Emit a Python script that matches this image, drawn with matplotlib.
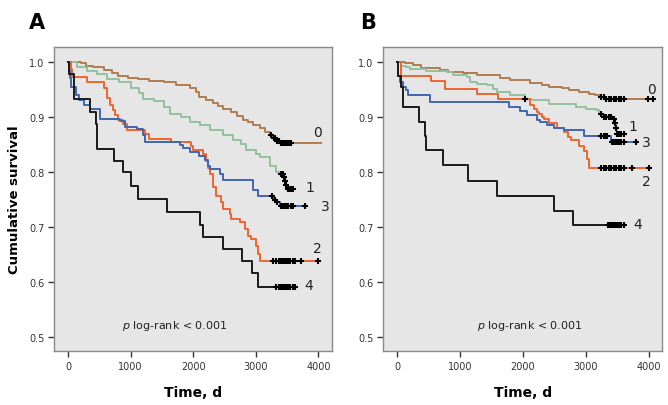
"""Kaplan-Meier style survival curves for two cohorts (panels A and B),
five groups each, with censoring marks and a log-rank note."""
import numpy as np
import matplotlib
matplotlib.use("Agg")
import matplotlib.pyplot as plt

# ---- panel A ----------------------------------------------------------
a0_t = [0, 200, 280, 400, 570, 700, 790, 950, 1110, 1300, 1530, 1730, 1950, 2050,
        2100, 2200, 2320, 2400, 2480, 2600, 2700, 2800, 2880, 2960, 3060, 3150,
        3230, 3280, 3330, 3380]
a0_s = [1.0, 0.997, 0.993, 0.99, 0.985, 0.979, 0.975, 0.971, 0.968, 0.966, 0.963,
        0.958, 0.953, 0.945, 0.936, 0.931, 0.926, 0.92, 0.914, 0.908, 0.902, 0.895,
        0.89, 0.886, 0.879, 0.873, 0.867, 0.862, 0.857, 0.852]
a0_end = 4046
a0_cens = [3250, 3290, 3310, 3340, 3370, 3400, 3420, 3440, 3460, 3490, 3520, 3550, 3570]

a1_t = [0, 150, 310, 470, 630, 810, 1000, 1130, 1200, 1370, 1530, 1630, 1800, 1950,
        2110, 2260, 2480, 2640, 2760, 2850, 3010, 3060, 3220, 3330, 3380, 3440,
        3460, 3480, 3500]
a1_s = [1.0, 0.99, 0.984, 0.978, 0.969, 0.963, 0.953, 0.943, 0.933, 0.929, 0.918,
        0.905, 0.9, 0.891, 0.885, 0.876, 0.867, 0.858, 0.85, 0.84, 0.833, 0.827,
        0.811, 0.8, 0.796, 0.79, 0.783, 0.776, 0.769]
a1_end = 3593
a1_cens = [3400, 3430, 3450, 3470, 3490, 3510, 3530, 3560, 3593]

a2_t = [0, 40, 70, 300, 570, 620, 670, 720, 750, 800, 880, 935, 1230, 1300, 1640,
        1970, 2000, 2160, 2200, 2240, 2265, 2320, 2370, 2450, 2480, 2580, 2610,
        2740, 2820, 2880, 2930, 3010, 3035, 3060]
a2_s = [1.0, 0.987, 0.972, 0.963, 0.952, 0.935, 0.922, 0.912, 0.903, 0.894, 0.887,
        0.877, 0.869, 0.86, 0.854, 0.848, 0.84, 0.832, 0.82, 0.808, 0.796, 0.772,
        0.756, 0.745, 0.733, 0.724, 0.715, 0.709, 0.696, 0.684, 0.678, 0.666,
        0.651, 0.639]
a2_end = 3992
a2_cens = [3280, 3330, 3370, 3400, 3430, 3460, 3490, 3520, 3550, 3590, 3620, 3727, 3992]

a3_t = [0, 15, 30, 45, 120, 175, 250, 350, 510, 830, 910, 1100, 1200, 1230, 1790,
        1840, 1950, 2100, 2190, 2240, 2270, 2420, 2480, 2960, 3040, 3280, 3330, 3380]
a3_s = [1.0, 0.985, 0.97, 0.954, 0.94, 0.93, 0.921, 0.915, 0.896, 0.893, 0.882,
        0.878, 0.867, 0.855, 0.849, 0.843, 0.836, 0.829, 0.821, 0.81, 0.805, 0.796,
        0.786, 0.767, 0.757, 0.75, 0.745, 0.739]
a3_end = 3780
a3_cens = [3260, 3300, 3340, 3400, 3430, 3460, 3490, 3520, 3560, 3590, 3780]

a4_t = [0, 10, 20, 96, 355, 445, 468, 734, 882, 1000, 1116, 1584, 2116, 2153,
        2477, 2780, 2935, 3035]
a4_s = [1.0, 0.987, 0.977, 0.933, 0.909, 0.887, 0.842, 0.82, 0.8, 0.775, 0.751,
        0.727, 0.703, 0.682, 0.66, 0.638, 0.617, 0.592]
a4_end = 3620
a4_cens = [3330, 3370, 3400, 3430, 3460, 3490, 3520, 3550, 3590, 3620]

# ---- panel B ----------------------------------------------------------
b0_t = [0, 117, 250, 384, 680, 810, 1050, 1264, 1637, 1797, 2117, 2304, 2410,
        2624, 2730, 2890, 3050, 3150, 3237, 3300]
b0_s = [1.0, 0.997, 0.994, 0.988, 0.985, 0.982, 0.979, 0.976, 0.97, 0.967, 0.962,
        0.958, 0.955, 0.952, 0.949, 0.945, 0.942, 0.939, 0.936, 0.933]
b0_end = 4064
b0_cens = [3240, 3280, 3320, 3360, 3400, 3440, 3480, 3520, 3560, 3610, 3984, 4064]

b1_t = [0, 60, 144, 197, 464, 784, 890, 1104, 1157, 1264, 1424, 1530, 1584, 1797,
        2037, 2144, 2410, 2837, 2997, 3157, 3210, 3264, 3424, 3450, 3477, 3500]
b1_s = [1.0, 0.993, 0.99, 0.987, 0.984, 0.981, 0.976, 0.972, 0.963, 0.96, 0.957,
        0.951, 0.945, 0.939, 0.933, 0.93, 0.924, 0.918, 0.915, 0.912, 0.906, 0.9,
        0.897, 0.888, 0.879, 0.869]
b1_end = 3610
b1_cens = [2037, 3240, 3280, 3320, 3360, 3400, 3440, 3460, 3480, 3500, 3530, 3560, 3610]

b2_t = [0, 64, 544, 757, 1264, 1610, 2117, 2170, 2224, 2250, 2304, 2330, 2410,
        2544, 2650, 2720, 2757, 2890, 2970, 3024, 3050]
b2_s = [1.0, 0.975, 0.966, 0.951, 0.941, 0.932, 0.921, 0.915, 0.909, 0.905, 0.9,
        0.897, 0.889, 0.88, 0.872, 0.864, 0.858, 0.848, 0.838, 0.824, 0.807]
b2_end = 4010
b2_cens = [3237, 3280, 3320, 3360, 3400, 3440, 3480, 3520, 3560, 3610, 3730, 4010]

b3_t = [0, 10, 37, 90, 144, 170, 517, 1770, 1957, 2064, 2224, 2277, 2384, 2490,
        2650, 2970, 3400]
b3_s = [1.0, 0.975, 0.963, 0.955, 0.948, 0.94, 0.927, 0.918, 0.91, 0.903, 0.895,
        0.891, 0.885, 0.879, 0.876, 0.865, 0.854]
b3_end = 3797
b3_cens = [3240, 3280, 3310, 3340, 3410, 3440, 3470, 3500, 3530, 3560, 3600, 3797]

b4_t = [0, 8, 60, 90, 350, 440, 465, 730, 1120, 1584, 2490, 2800]
b4_s = [1.0, 0.975, 0.955, 0.918, 0.891, 0.866, 0.839, 0.812, 0.784, 0.757, 0.73, 0.704]
b4_end = 3610
b4_cens = [3344, 3380, 3410, 3440, 3470, 3500, 3530, 3560, 3610]

GROUP_LABELS = ["0", "1", "2", "3", "4"]
COLORS = ["#b07d4f", "#93c0a0", "#f0652f", "#4066b0", "#1a1a1a"]
DRAW_ORDER = [0, 1, 3, 2, 4]

# label anchor points (time, survival) beside the curve ends
a_lab_t = [3990, 3860, 3990, 4110, 3845]
a_lab_s = [0.873, 0.773, 0.662, 0.738, 0.594]
b_lab_t = [4040, 3750, 3960, 3960, 3830]
b_lab_s = [0.951, 0.884, 0.784, 0.855, 0.705]

PANEL_A = [(a0_t, a0_s, a0_end, a0_cens), (a1_t, a1_s, a1_end, a1_cens),
           (a2_t, a2_s, a2_end, a2_cens), (a3_t, a3_s, a3_end, a3_cens),
           (a4_t, a4_s, a4_end, a4_cens)]
PANEL_B = [(b0_t, b0_s, b0_end, b0_cens), (b1_t, b1_s, b1_end, b1_cens),
           (b2_t, b2_s, b2_end, b2_cens), (b3_t, b3_s, b3_end, b3_cens),
           (b4_t, b4_s, b4_end, b4_cens)]

plt.rcParams["font.family"] = ["DejaVu Sans"]


def _surv_at(times, surv, t):
    idx = np.searchsorted(times, t, side="right") - 1
    return surv[max(idx, 0)]


def _draw_panel(ax, groups, lab_t, lab_s, letter, letter_x, note_x):
    ax.set_facecolor("#e6e6e6")
    for gi in DRAW_ORDER:
        t, s, end, cens = groups[gi]
        tt = list(t) + [end]
        ss = list(s) + [s[-1]]
        ax.step(tt, ss, where="post", color=COLORS[gi], lw=1.4, zorder=2 + gi * 0.1)
        cy = [_surv_at(t, s, c) for c in cens]
        ax.plot(cens, cy, "+", color="black", ms=4.5, mew=1.5, zorder=4)
        ax.text(lab_t[gi], lab_s[gi], GROUP_LABELS[gi], fontsize=10,
                color="#222222", ha="center", va="center")

    ax.set_xlim(-225, 4215)
    ax.set_ylim(0.475, 1.027)
    ax.set_xticks([0, 1000, 2000, 3000, 4000])
    ax.set_yticks([0.5, 0.6, 0.7, 0.8, 0.9, 1.0])
    ax.set_yticklabels(["0.5", "0.6", "0.7", "0.8", "0.9", "1.0"])
    ax.tick_params(axis="both", direction="out", length=4, width=1,
                   colors="#333333", labelsize=7, pad=3)
    for sp in ax.spines.values():
        sp.set_color("#8a8a8a")
        sp.set_linewidth(1)
    ax.set_xlabel("Time, d", fontsize=10, fontweight="bold", labelpad=10)
    ax.text(note_x, 0.085, r"$\it{p}$ log-rank < 0.001", transform=ax.transAxes,
            ha="center", va="center", fontsize=8, color="#222222")
    ax.text(letter_x, 1.082, letter, transform=ax.transAxes, fontsize=15,
            fontweight="bold", ha="center", va="center")


def main() -> None:
    fig = plt.figure(figsize=(6.68, 4.06), dpi=100)
    ax_a = fig.add_axes([0.0808, 0.133, 0.416, 0.749])
    ax_b = fig.add_axes([0.5735, 0.133, 0.418, 0.749])
    _draw_panel(ax_a, PANEL_A, a_lab_t, a_lab_s, "A", -0.061, 0.435)
    _draw_panel(ax_b, PANEL_B, b_lab_t, b_lab_s, "B", -0.054, 0.527)
    ax_a.set_ylabel("Cumulative survival", fontsize=9.5, fontweight="bold", labelpad=6)
    fig.savefig("out.png", dpi=100)
    plt.close(fig)


if __name__ == "__main__":
    main()
